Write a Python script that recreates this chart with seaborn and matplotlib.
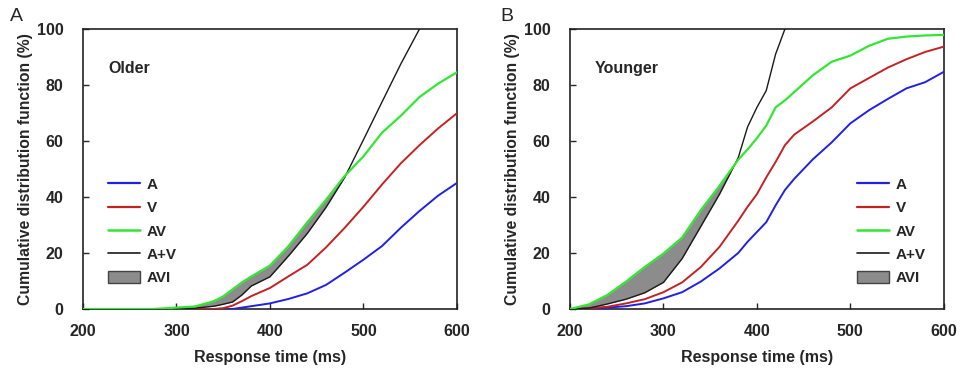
import numpy as np
import pandas as pd
import matplotlib
matplotlib.use("Agg")
import matplotlib.pyplot as plt
import seaborn as sns
from matplotlib.lines import Line2D
from matplotlib.patches import Patch

# --- values (response time in ms, CDF in %) ---
older_rt = [200, 250, 275, 300, 320, 340, 350, 360, 370, 380, 400, 420, 440, 460, 480, 500, 520, 540, 560, 580, 600]
older_a = [0, 0, 0, 0, 0, 0, 0, 0, 0.5, 1.0, 2.0, 3.6, 5.6, 8.6, 13.0, 17.6, 22.5, 29, 35, 40.5, 45]
older_v = [0, -0.2, -0.3, 0, 0, 0, 0.3, 1.2, 2.8, 4.6, 7.5, 11.7, 15.8, 22, 29, 36.5, 44.5, 52, 58.5, 64.5, 69.9]
older_av = [0, 0, 0, 0.5, 0.9, 2.8, 4.5, 7, 9.5, 11.6, 15.5, 22.5, 31, 39, 47.5, 54.5, 63, 69, 75.7, 80.5, 84.5]
older_apv = [0, 0, 0, 0.2, 0.3, 1.0, 1.7, 2.5, 5, 8.2, 11.5, 19, 27, 36.3, 47, 60.4, 74, 87.5, 100, np.nan, np.nan]

younger_rt = [200, 220, 240, 260, 280, 300, 320, 340, 360, 380, 390, 400, 410, 420, 430, 440, 460, 480, 500, 520, 540, 560, 580, 600]
younger_a = [0, 0, 0.5, 1, 2, 3.8, 6, 9.8, 14.5, 20, 24, 27.5, 31, 37, 42.5, 46.5, 53.5, 59.5, 66.3, 71, 75, 78.8, 81, 84.7]
younger_v = [0, 0.3, 0.8, 2, 3.5, 6, 9.5, 15, 22.2, 31.5, 36.5, 41, 47, 52.5, 58.5, 62.3, 67, 72, 78.8, 82.5, 86.2, 89.2, 91.8, 93.7]
younger_av = [0, 1.6, 5, 9.8, 15, 19.8, 25.5, 35.3, 44, 53.3, 57, 61, 65.5, 72, 74.5, 77.5, 83.5, 88.3, 90.5, 94, 96.5, 97.3, 97.7, 97.9]
younger_apv = [0, 0.3, 1.8, 3.5, 5.8, 9.5, 18, 29.5, 41, 54, 65, 72, 78, 91, 100] + [np.nan] * 9

colors = {"A": "#2020e6", "V": "#c42222", "AV": "#33e633", "A+V": "#1a1a1a"}
widths = {"A": 1.4, "V": 1.4, "AV": 1.6, "A+V": 1.0}

sns.set_style("ticks")
plt.rcParams["font.family"] = ["Liberation Sans", "DejaVu Sans"]
plt.rcParams["font.weight"] = "bold"

fig = plt.figure(figsize=(9.71, 3.69), dpi=100)
ax1 = fig.add_axes([0.0855, 0.1626, 0.385, 0.7588])
ax2 = fig.add_axes([0.587, 0.1626, 0.385, 0.7588])


def draw_panel(ax, rt, a, v, av, apv, title, leg_x):
    df = pd.DataFrame({"rt": rt, "A": a, "V": v, "AV": av, "A+V": apv})
    long = df.melt(id_vars="rt", var_name="cond", value_name="cdf").dropna()

    # AVI: area where AV exceeds the race-model sum
    av_arr = np.array(av, dtype=float)
    apv_arr = np.array(apv, dtype=float)
    mask = np.nan_to_num(av_arr - apv_arr, nan=-1) >= 0
    ax.fill_between(df["rt"], av_arr, apv_arr, where=mask, interpolate=True,
                    color="#8c8c8c", linewidth=0, zorder=1)

    for cond in ["A", "V", "A+V", "AV"]:
        sns.lineplot(data=long[long["cond"] == cond], x="rt", y="cdf", ax=ax,
                     color=colors[cond], linewidth=widths[cond], errorbar=None,
                     legend=False, zorder=3)

    ax.set_xlim(200, 600)
    ax.set_ylim(0, 100)
    ax.set_xticks([200, 300, 400, 500, 600])
    ax.set_yticks([0, 20, 40, 60, 80, 100])
    ax.tick_params(direction="in", length=4, width=1, labelsize=11.5)
    ax.tick_params(axis="x", pad=11)
    ax.tick_params(axis="y", pad=14)
    for lab in ax.get_xticklabels() + ax.get_yticklabels():
        lab.set_fontweight("bold")
    for s in ax.spines.values():
        s.set_visible(True)
        s.set_linewidth(1.2)
        s.set_color("#222222")
    ax.set_xlabel("Response time (ms)", fontsize=11.5, fontweight="bold", labelpad=8)
    ax.set_ylabel("Cumulative distribution function (%)", fontsize=11.3,
                  fontweight="bold", labelpad=3)
    ax.text(0.067, 0.86, title, transform=ax.transAxes, fontsize=11.5,
            fontweight="bold", va="center")

    handles = [Line2D([], [], color=colors[c], lw=widths[c] + 0.2) for c in ["A", "V", "AV", "A+V"]]
    handles.append(Patch(facecolor="#8c8c8c", edgecolor="#444444", linewidth=1))
    leg = ax.legend(handles, ["A", "V", "AV", "A+V", "AVI"], loc="lower left",
                    bbox_to_anchor=(leg_x, 0.085), frameon=False, fontsize=11,
                    handlelength=2.1, handleheight=0.8, handletextpad=0.45,
                    labelspacing=0.6, borderpad=0, borderaxespad=0)
    for t in leg.get_texts():
        t.set_fontweight("bold")


draw_panel(ax1, older_rt, older_a, older_v, older_av, older_apv, "Older", 0.067)
draw_panel(ax2, younger_rt, younger_a, younger_v, younger_av, younger_apv, "Younger", 0.767)

fig.text(0.010, 0.955, "A", fontsize=14, fontweight="normal", va="center")
fig.text(0.515, 0.955, "B", fontsize=14, fontweight="normal", va="center")

fig.savefig("out.png", dpi=100)
